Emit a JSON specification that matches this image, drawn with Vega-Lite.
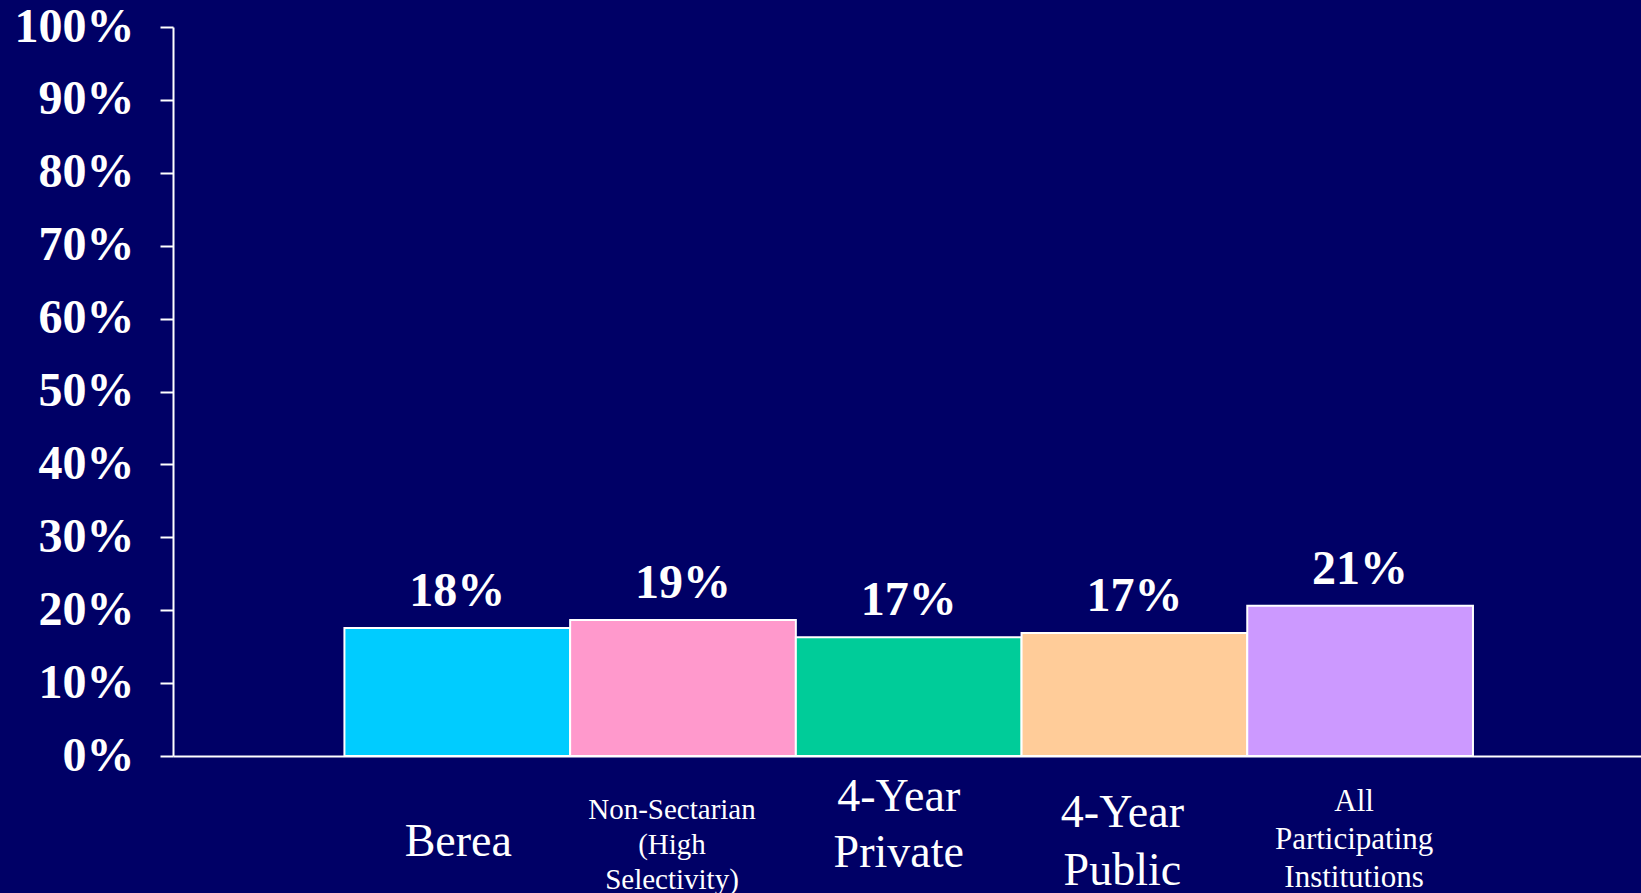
{
  "$schema": "https://vega.github.io/schema/vega-lite/v6.json",
  "width": 1468,
  "height": 729,
  "autosize": {"type": "none"},
  "padding": {"left": 173, "top": 27, "right": 0, "bottom": 137},
  "background": "#000066",
  "config": {"view": {"stroke": null}, "font": "Liberation Serif"},
  "data": {
    "values": [
      {"category": "Berea", "value": 0.1756, "label": "18%"},
      {"category": "Non-Sectarian (High Selectivity)", "value": 0.1866, "label": "19%"},
      {"category": "4-Year Private", "value": 0.163, "label": "17%"},
      {"category": "4-Year Public", "value": 0.1687, "label": "17%"},
      {"category": "All Participating Institutions", "value": 0.206, "label": "21%"}
    ]
  },
  "encoding": {
    "x": {
      "field": "category",
      "type": "nominal",
      "sort": null,
      "scale": {"paddingInner": 0, "paddingOuter": 0.752, "align": 0.505},
      "axis": {
        "title": null,
        "domainColor": "white",
        "domainWidth": 2,
        "ticks": false,
        "labelColor": "white",
        "labelFont": "Liberation Serif",
        "labelFontWeight": "normal",
        "labelAngle": 0,
        "labelAlign": "center",
        "labelBaseline": "top",
        "labelLimit": 0,
        "labelOverlap": false,
        "labelBound": false,
        "labelFlush": false,
        "labelExpr": "datum.value == 'Non-Sectarian (High Selectivity)' ? ['Non-Sectarian','(High','Selectivity)'] : datum.value == '4-Year Private' ? ['4-Year','Private'] : datum.value == '4-Year Public' ? ['4-Year','Public'] : datum.value == 'All Participating Institutions' ? ['All','Participating','Institutions'] : datum.label",
        "labelFontSize": {
          "condition": [
            {"test": "datum.value == 'Non-Sectarian (High Selectivity)'", "value": 29},
            {"test": "datum.value == 'All Participating Institutions'", "value": 31}
          ],
          "value": 46
        },
        "labelPadding": {
          "condition": [
            {"test": "datum.value == 'Berea'", "value": 63},
            {"test": "datum.value == 'Non-Sectarian (High Selectivity)'", "value": 39},
            {"test": "datum.value == '4-Year Private'", "value": 18},
            {"test": "datum.value == '4-Year Public'", "value": 34}
          ],
          "value": 30
        },
        "labelOffset": {
          "condition": [
            {"test": "datum.value == 'Berea'", "value": 1},
            {"test": "datum.value == 'Non-Sectarian (High Selectivity)'", "value": -11},
            {"test": "datum.value == '4-Year Private'", "value": -10},
            {"test": "datum.value == '4-Year Public'", "value": -12}
          ],
          "value": -6
        },
        "labelLineHeight": {"expr": "datum.value == 'Non-Sectarian (High Selectivity)' ? 35 : datum.value == 'All Participating Institutions' ? 38 : datum.value == '4-Year Public' ? 58 : 56"}
      }
    }
  },
  "layer": [
    {
      "mark": {"type": "bar", "stroke": "white", "strokeWidth": 2},
      "encoding": {
        "y": {
          "field": "value",
          "type": "quantitative",
          "scale": {"domain": [0, 1], "nice": false},
          "axis": {
            "title": null,
            "grid": false,
            "values": [0, 0.1, 0.2, 0.3, 0.4, 0.5, 0.6, 0.7, 0.8, 0.9, 1],
            "format": ".0%",
            "domainColor": "white",
            "domainWidth": 2,
            "tickColor": "white",
            "tickWidth": 2,
            "tickSize": 13,
            "labelPadding": 26,
            "labelColor": "white",
            "labelFont": "Liberation Serif",
            "labelFontWeight": "bold",
            "labelFontSize": 48,
            "labelBaseline": "middle",
            "labelBound": false,
            "labelOverlap": false
          }
        },
        "color": {
          "field": "category",
          "type": "nominal",
          "legend": null,
          "scale": {
            "domain": ["Berea", "Non-Sectarian (High Selectivity)", "4-Year Private", "4-Year Public", "All Participating Institutions"],
            "range": ["#00CCFF", "#FF99CC", "#00CC99", "#FFCC99", "#CC99FF"]
          }
        }
      }
    },
    {
      "mark": {"type": "text", "dy": -22, "baseline": "alphabetic", "align": "center", "font": "Liberation Serif", "fontWeight": "bold", "fontSize": 48, "color": "white"},
      "encoding": {
        "y": {"field": "value", "type": "quantitative"},
        "text": {"field": "label"}
      }
    }
  ]
}
